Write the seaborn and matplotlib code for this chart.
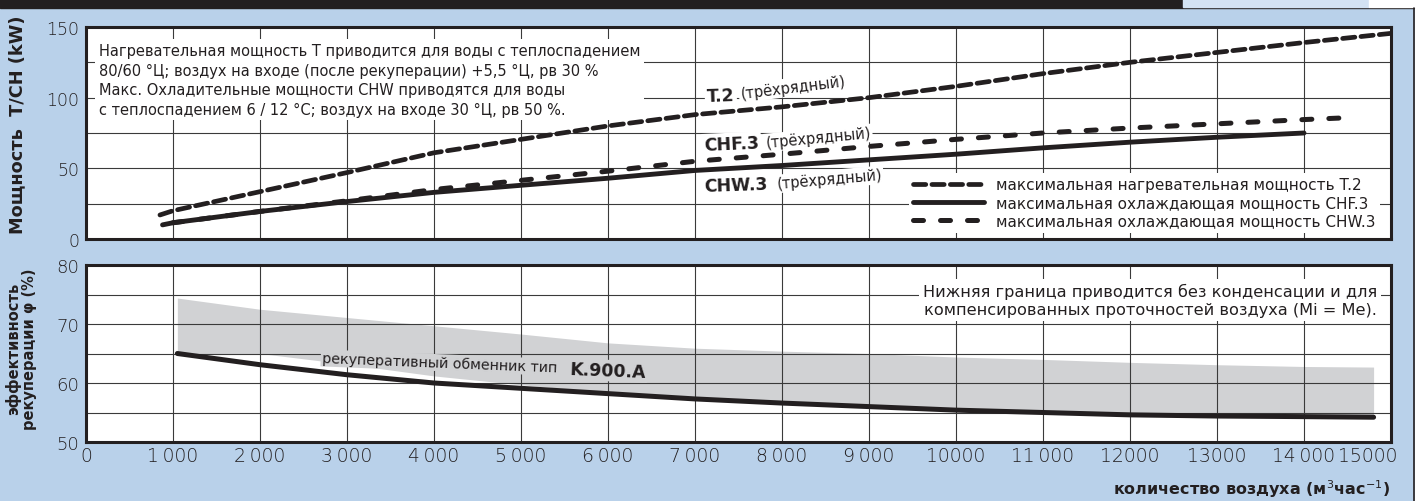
import matplotlib
matplotlib.use("Agg")
import matplotlib.pyplot as plt
import matplotlib.transforms as mtransforms
import seaborn as sns
from matplotlib.patches import Rectangle
from matplotlib.lines import Line2D

# ---------------- data ----------------
x_t2 = [850, 1000, 2000, 3000, 4000, 5000, 6000, 7000, 8000, 9000, 10000, 11000, 12000, 13000, 14000, 15000]
t2 = [17, 20, 33.5, 47, 61, 70.5, 80, 88, 93.5, 100, 108, 117, 125, 132, 139, 145.5]

x_chf = [880, 1000, 2000, 3000, 4000, 5000, 6000, 7000, 8000, 9000, 10000, 11000, 12000, 13000, 14000]
chf = [10, 11.5, 19.5, 26.5, 33, 38, 43, 48.5, 52, 56, 60, 64.5, 68.5, 72, 75]

x_chw = [1000, 2000, 3000, 4000, 5000, 6000, 7000, 8000, 9000, 10000, 11000, 12000, 13000, 14000, 14500]
chw = [11.5, 19.5, 27, 35, 41.5, 48, 55, 60, 65.5, 70.5, 75, 78.5, 81.5, 84.5, 85.8]

x_rec = [1050, 2000, 3000, 4000, 5000, 6000, 7000, 8000, 9000, 10000, 11000, 12000, 13000, 14000, 14800]
rec = [65, 63.1, 61.4, 60.0, 59.1, 58.2, 57.3, 56.6, 56.0, 55.4, 55.0, 54.6, 54.4, 54.3, 54.2]
band_top = [74.4, 72.5, 71.1, 69.7, 68.3, 66.8, 65.9, 65.4, 65.0, 64.4, 64.0, 63.5, 63.1, 62.8, 62.7]
band_low = [65, 65, 63.2, 61.2, 59.7, 58.4, 57.3, 56.6, 56.0, 55.4, 55.0, 54.6, 54.4, 54.3, 54.2]

x_ticks = list(range(0, 16000, 1000))
x_tick_labels = ["0", "1\u2009000", "2\u2009000", "3\u2009000", "4\u2009000", "5\u2009000", "6\u2009000",
                 "7\u2009000", "8\u2009000", "9\u2009000", "10000", "11\u2009000", "12000", "13000",
                 "14\u2009000", "15000"]
top_yticks = [0, 50, 100, 150]
bot_yticks = [50, 60, 70, 80]

legend_labels = ["максимальная нагревательная мощность T.2",
                 "максимальная охлаждающая мощность CHF.3",
                 "максимальная охлаждающая мощность CHW.3"]

note_top = ("Нагревательная мощность T приводится для воды с теплоспадением\n"
            "80/60 °Ц; воздух на входе (после рекуперации) +5,5 °Ц, рв 30 %\n"
            "Макс. Охладительные мощности CHW приводятся для воды\n"
            "с теплоспадением 6 / 12 °С; воздух на входе 30 °Ц, рв 50 %.")
note_bot = ("Нижняя граница приводится без конденсации и для\n"
            "компенсированных проточностей воздуха (Mi = Me).")

# ---------------- style ----------------
DARK = "#231F20"
BLUE = "#B9D1EA"
GRAY = "#D1D2D4"
GRID = "#3A3A3A"
W, H = 1419, 502

sns.set_style("white")
plt.rcParams["font.family"] = ["DejaVu Sans"]


def P(x, y):
    return (x / W, 1 - y / H)


fig = plt.figure(figsize=(W / 100, H / 100), dpi=100, facecolor=BLUE)

# frame decorations
fig.patches.append(Rectangle(P(0, 9), 1, 9 / H, transform=fig.transFigure, color=DARK, zorder=0))
fig.patches.append(Rectangle(P(1183, 8), (1369 - 1183) / W, 8 / H, transform=fig.transFigure,
                             color="#D3E2F3", zorder=1))
fig.patches.append(Rectangle(P(1369, 8), (W - 1369) / W, 8 / H, transform=fig.transFigure,
                             color="white", zorder=1))
fig.patches.append(Rectangle(P(1415, H), 4 / W, 1 - 9 / H, transform=fig.transFigure,
                             color="white", zorder=1))
fig.lines.append(Line2D([1413.5 / W] * 2, [0, 1 - 9 / H], transform=fig.transFigure,
                        color=DARK, lw=1.2))

ax1 = fig.add_axes([86 / W, 1 - 240 / H, 1305 / W, 212 / H])
ax2 = fig.add_axes([86 / W, 1 - 443 / H, 1305 / W, 177 / H])

for ax in (ax1, ax2):
    ax.set_facecolor("white")
    for s in ax.spines.values():
        s.set_color(DARK)
        s.set_linewidth(2.2)
        s.set_visible(True)
    ax.set_axisbelow(True)
    ax.set_xlim(0, 15000)
    ax.set_xticks(x_ticks)
    ax.tick_params(axis="both", length=0, colors=DARK)
    ax.grid(True, which="both", color=GRID, lw=0.8)

# ---- top panel ----
ax1.set_ylim(0, 150)
ax1.set_yticks(top_yticks)
ax1.set_yticks([25, 75, 125], minor=True)
ax1.set_yticklabels([str(v) for v in top_yticks], fontsize=12.5, fontweight="light")
ax1.tick_params(axis="y", which="both", length=0, pad=5)
ax1.set_xticklabels([])

sns.lineplot(x=x_t2, y=t2, ax=ax1, color=DARK, lw=3.4, linestyle=(0, (2.6, 1.3)),
             sort=False, errorbar=None, zorder=4)
l_t2 = ax1.lines[-1]
sns.lineplot(x=x_chf, y=chf, ax=ax1, color=DARK, lw=3.5,
             sort=False, errorbar=None, zorder=4)
l_chf = ax1.lines[-1]
sns.lineplot(x=x_chw, y=chw, ax=ax1, color=DARK, lw=3.6, linestyle=(0, (2.0, 3.4)),
             sort=False, errorbar=None, zorder=4)
l_chw = ax1.lines[-1]
for ln in (l_t2, l_chf, l_chw):
    ln.set_dash_capstyle("round")
    ln.set_solid_capstyle("round")

ax1.set_xlabel("")
ax1.set_ylabel("")

leg = ax1.legend(handles=[l_t2, l_chf, l_chw], labels=legend_labels, loc="lower right",
                 bbox_to_anchor=P(1380, 234), bbox_transform=fig.transFigure,
                 frameon=True, fancybox=False, framealpha=1, edgecolor="none",
                 facecolor="white", fontsize=11, handlelength=4.6, handletextpad=0.8,
                 labelspacing=0.2, borderpad=0.3, borderaxespad=0)
for t in leg.get_texts():
    t.set_color(DARK)
for lh in leg.get_lines():
    lh.set_dash_capstyle("round")
    lh.set_solid_capstyle("round")

box = dict(boxstyle="square,pad=0.12", fc="white", ec="none")
ax1.text(*P(99, 44), note_top, transform=fig.transFigure, ha="left", va="top",
         fontsize=10.5, color=DARK, linespacing=1.38,
         bbox=dict(boxstyle="square,pad=0.25", fc="white", ec="none"), zorder=1)

# series labels
def lbl(ax, bold, rest, pb, pr, rb, rr):
    ax.text(*P(*pb), bold, transform=fig.transFigure, ha="left", va="baseline",
            rotation=rb, rotation_mode="anchor", fontsize=12.5, fontweight="bold",
            color=DARK, bbox=box, zorder=1)
    ax.text(*P(*pr), rest, transform=fig.transFigure, ha="left", va="baseline",
            rotation=rr, rotation_mode="anchor", fontsize=10.5, color=DARK,
            bbox=box, zorder=1)

lbl(ax1, "T.2", "(трёхрядный)", (707, 102), (741, 99), 2, 7)
lbl(ax1, "CHF.3", "(трёхрядный)", (704, 151), (766, 148.5), 2.5, 5.5)
lbl(ax1, "CHW.3", "(трёхрядный)", (704, 192), (777, 189.5), 2, 5)

# ---- bottom panel ----
ax2.set_ylim(50, 80)
ax2.set_yticks(bot_yticks)
ax2.set_yticks([55, 65, 75], minor=True)
ax2.set_yticklabels([str(v) for v in bot_yticks], fontsize=13, fontweight="light")
ax2.set_xticklabels(x_tick_labels, fontsize=13.5, fontweight="light")
ax2.tick_params(axis="y", which="both", length=0, pad=5)
ax2.tick_params(axis="x", length=0, pad=3)
last = ax2.get_xticklabels()[-1]
last.set_horizontalalignment("right")
last.set_transform(last.get_transform() + mtransforms.ScaledTranslation(6 / 100, 0, fig.dpi_scale_trans))

ax2.fill_between(x_rec, band_low, band_top, color=GRAY, lw=0, zorder=0.2)
sns.lineplot(x=x_rec, y=rec, ax=ax2, color=DARK, lw=3.6,
             sort=False, errorbar=None, zorder=4)
ax2.lines[-1].set_solid_capstyle("round")
ax2.set_xlabel("")
ax2.set_ylabel("")

ax2.text(*P(322, 363), "рекуперативный обменник тип", transform=fig.transFigure,
         ha="left", va="baseline", rotation=-2.3, rotation_mode="anchor", fontsize=10.3,
         color=DARK, bbox=dict(boxstyle="square,pad=0.1", fc=GRAY, ec="none"), zorder=1)
ax2.text(*P(569, 375), "K.900.A", transform=fig.transFigure,
         ha="left", va="baseline", rotation=-2.3, rotation_mode="anchor", fontsize=12.5,
         fontweight="bold", color=DARK,
         bbox=dict(boxstyle="square,pad=0.1", fc=GRAY, ec="none"), zorder=1)

ax2.text(*P(1377, 284), note_bot, transform=fig.transFigure, ha="right", va="top",
         fontsize=11.6, color=DARK, linespacing=1.25,
         bbox=dict(boxstyle="square,pad=0.25", fc="white", ec="none"), zorder=1)

# axis titles
fig.text(*P(17, 125), "Мощность  T/CH (kW)", rotation=90, ha="center", va="center",
         fontsize=12.8, fontweight="bold", color=DARK)
fig.text(*P(21, 349), "эффективность\nрекуперации φ (%)", rotation=90, ha="center",
         va="center", fontsize=10.5, fontweight="bold", color=DARK, linespacing=1.15)
fig.text(*P(1390, 489), "количество воздуха (м$^{3}$час$^{-1}$)", ha="right", va="center",
         fontsize=11.5, fontweight="bold", color=DARK)

fig.savefig("out.png", dpi=100, facecolor=BLUE)
